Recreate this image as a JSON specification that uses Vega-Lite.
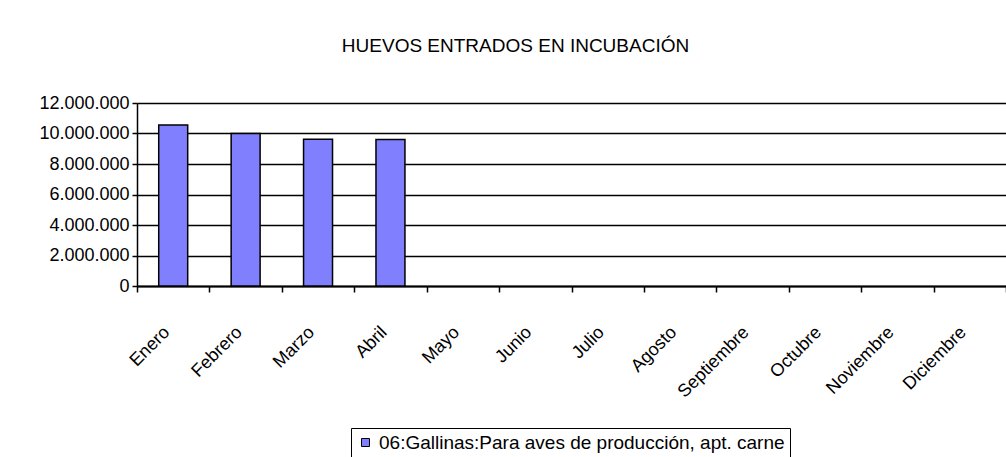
{
  "$schema": "https://vega.github.io/schema/vega-lite/v6.json",
  "autosize": "none",
  "width": 869,
  "height": 183,
  "padding": {"left": 137, "top": 103, "right": 0, "bottom": 171},
  "background": "white",
  "title": {
    "text": "HUEVOS ENTRADOS EN INCUBACIÓN",
    "font": "Liberation Sans",
    "fontSize": 19,
    "fontWeight": "normal",
    "color": "black",
    "anchor": "middle",
    "baseline": "alphabetic",
    "dx": -56,
    "offset": 23
  },
  "data": {
    "values": [
      {"mes": "Enero", "huevos": 10550000, "serie": "06:Gallinas:Para aves de producción, apt. carne"},
      {"mes": "Febrero", "huevos": 10000000, "serie": "06:Gallinas:Para aves de producción, apt. carne"},
      {"mes": "Marzo", "huevos": 9620000, "serie": "06:Gallinas:Para aves de producción, apt. carne"},
      {"mes": "Abril", "huevos": 9610000, "serie": "06:Gallinas:Para aves de producción, apt. carne"}
    ]
  },
  "mark": {"type": "bar", "width": {"band": 0.4}, "stroke": "black", "strokeWidth": 1.5},
  "encoding": {
    "x": {
      "field": "mes",
      "type": "nominal",
      "sort": null,
      "scale": {
        "domain": ["Enero", "Febrero", "Marzo", "Abril", "Mayo", "Junio", "Julio", "Agosto", "Septiembre", "Octubre", "Noviembre", "Diciembre"],
        "paddingInner": 0,
        "paddingOuter": 0
      },
      "axis": {
        "title": null,
        "tickBand": "extent",
        "labelAngle": -45,
        "labelAlign": "right",
        "labelBaseline": "top",
        "labelPadding": 31,
        "labelOffset": -13,
        "labelFont": "Liberation Sans",
        "labelFontSize": 18,
        "labelColor": "black",
        "tickColor": "black",
        "tickSize": 6,
        "tickWidth": 1.5,
        "domainColor": "black",
        "domainWidth": 2,
        "grid": false
      }
    },
    "y": {
      "field": "huevos",
      "type": "quantitative",
      "scale": {"domain": [0, 12000000], "nice": false},
      "axis": {
        "title": null,
        "values": [0, 2000000, 4000000, 6000000, 8000000, 10000000, 12000000],
        "format": ",d",
        "labelFont": "Liberation Sans",
        "labelFontSize": 18,
        "labelColor": "black",
        "labelPadding": 3,
        "tickColor": "black",
        "tickSize": 5,
        "tickWidth": 1.5,
        "domainColor": "black",
        "domainWidth": 1.5,
        "grid": true,
        "gridColor": "black",
        "gridWidth": 1.5,
        "gridOpacity": 1
      }
    },
    "color": {
      "field": "serie",
      "type": "nominal",
      "scale": {"range": ["#8080ff"]},
      "legend": {
        "title": null,
        "orient": "none",
        "legendX": 214,
        "legendY": 325,
        "strokeColor": "black",
        "padding": 5,
        "symbolType": "square",
        "symbolSize": 64,
        "symbolStrokeColor": "black",
        "symbolStrokeWidth": 1,
        "symbolOpacity": 1,
        "labelFont": "Liberation Sans",
        "labelFontSize": 19,
        "labelColor": "black",
        "labelOffset": 4,
        "labelLimit": 600
      }
    }
  },
  "config": {
    "view": {"stroke": null},
    "locale": {
      "number": {"decimal": ",", "thousands": ".", "grouping": [3], "currency": ["", " €"]}
    }
  }
}
